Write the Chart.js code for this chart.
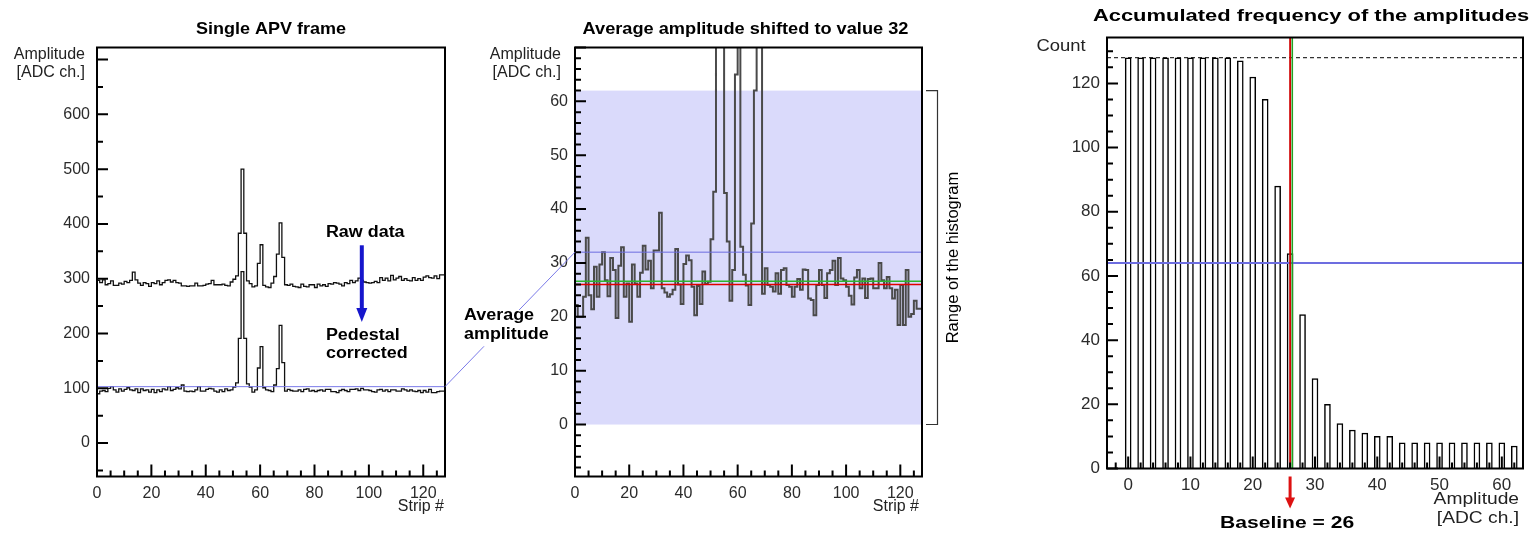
<!DOCTYPE html>
<html>
<head>
<meta charset="utf-8">
<script src="https://cdn.jsdelivr.net/npm/chart.js@4.4.1/dist/chart.umd.min.js"></script>
<style>
  html, body { margin: 0; padding: 0; background: #fff; }
  body { width: 1539px; height: 535px; position: relative; overflow: hidden; }
  canvas { position: absolute; top: 0; }
  #c1 { left: 0; }
  #c2 { left: 440px; }
  #c3 { left: 1000px; }
</style>
</head>
<body>
<canvas id="c1" width="460" height="535"></canvas>
<canvas id="c2" width="560" height="535"></canvas>
<canvas id="c3" width="539" height="535"></canvas>
<script>
const FONT = "'Liberation Sans', Arial, Helvetica, sans-serif";

// --- Data ---
// Panel 1: one APV frame, 128 strips
const rawData = [
    298, 297, 293, 298, 289, 291, 296, 288, 288, 292,
    290, 295, 293, 297, 312, 298, 292, 288, 293, 291,
    286, 293, 291, 296, 289, 293, 297, 298, 294, 297,
    293, 292, 287, 287, 286, 287, 287, 292, 287, 287,
    288, 290, 291, 297, 289, 289, 289, 290, 288, 287,
    294, 299, 305, 383, 500, 383, 296, 291, 285, 287,
    328, 362, 288, 285, 284, 292, 304, 345, 402, 339,
    289, 288, 290, 286, 285, 284, 290, 286, 285, 289,
    289, 284, 290, 287, 289, 286, 291, 290, 293, 292,
    290, 287, 293, 291, 297, 293, 296, 301, 297, 294,
    293, 292, 293, 295, 293, 302, 297, 301, 296, 306,
    298, 301, 304, 297, 300, 297, 296, 302, 297, 300,
    297, 303, 305, 302, 301, 305, 300, 307
];
const pedestalCorrected = [
    97, 90, 95, 96, 94, 100, 103, 97, 93, 99,
    95, 98, 101, 97, 96, 99, 92, 99, 96, 97,
    93, 98, 92, 97, 94, 99, 97, 103, 96, 98,
    101, 99, 106, 95, 94, 95, 94, 97, 103, 95,
    95, 98, 100, 99, 95, 93, 97, 94, 99, 96,
    97, 102, 110, 191, 313, 191, 108, 102, 93, 97,
    137, 176, 101, 97, 96, 94, 106, 136, 215, 147,
    95, 98, 96, 95, 95, 97, 94, 98, 99, 95,
    96, 94, 96, 97, 95, 98, 98, 94, 94, 92,
    96, 98, 96, 94, 98, 98, 99, 96, 100, 97,
    97, 96, 94, 93, 97, 98, 95, 97, 94, 97,
    97, 95, 95, 99, 97, 95, 97, 95, 94, 96,
    92, 96, 93, 98, 92, 92, 94, 95
];
const avgLineP1 = 103;

// Panel 2: same frame, average shifted to 32
const shiftedAmplitude = [
    30, 22.2, 20, 20, 23.7, 34.7, 24, 21.4, 29.3, 23.7,
    29.7, 32, 26.8, 23.8, 30.9, 28.7, 19.8, 29.5, 32.9, 23.7,
    26.2, 19.1, 29.7, 26.2, 23.7, 28.2, 33.2, 28.8, 30.4, 25.3,
    32.3, 32.3, 39.3, 25.3, 24.5, 23.7, 24.2, 25, 32.6, 26,
    22.4, 29.8, 31.4, 30.5, 25.6, 20.3, 25.7, 22.4, 28.4, 26.1,
    26.5, 34.4, 43.2, 120, 242, 120, 43, 34, 23, 28.7,
    65, 105, 33, 27.8, 25.8, 22.2, 37.3, 62, 144, 76,
    24.3, 29, 25.9, 25.6, 24.7, 28.1, 24.3, 28.7, 29, 25.9,
    25.6, 23.7, 25.6, 27, 25, 28.8, 28.7, 23.4, 23.1, 20.3,
    25.9, 28.7, 25.9, 23.5, 28.1, 28.7, 30.4, 25.9, 30.9, 27.1,
    26.8, 25.6, 23.9, 22.3, 27.3, 28.7, 25.3, 27.1, 23.5, 27,
    27.1, 25.3, 25.3, 30, 26.8, 25.3, 27.4, 25.3, 23.4, 25,
    18.5, 25.9, 18.5, 28.7, 20, 20.5, 23, 21.5
];
const shiftTarget = 32;
const histRange = [0, 62];
const meanLine = 26.6;
const baseline = 26;

// Panel 3: accumulated frequency
const ampBins = [0, 2, 4, 6, 8, 10, 12, 14, 16, 18, 20, 22, 24, 26, 28, 30,
                 32, 34, 36, 38, 40, 42, 44, 46, 48, 50, 52, 54, 56, 58, 60, 62];
const accumCounts = [128, 128, 128, 128, 128, 128, 128, 128, 128, 127, 122, 115, 88, 67, 48, 28,
                     20, 14, 12, 11, 10, 10, 8, 8, 8, 8, 8, 8, 8, 8, 8, 7];
const maxCount = 128;
const halfCount = 64;
const baselineFine = 26.35;

// Tick labels
const p1XTicks = [0, 20, 40, 60, 80, 100, 120];
const p1YTicks = [0, 100, 200, 300, 400, 500, 600];
const p2XTicks = [0, 20, 40, 60, 80, 100, 120];
const p2YTicks = [0, 10, 20, 30, 40, 50, 60];
const p3XTicks = [0, 10, 20, 30, 40, 50, 60];
const p3YTicks = [0, 20, 40, 60, 80, 100, 120];

// --- Helpers ---
function stepPoints(vals) {
    const pts = vals.map((v, i) => ({ x: i, y: v }));
    pts.push({ x: vals.length, y: vals[vals.length - 1] });
    return pts;
}

function linAxis(min, max, tickVals, size, fit) {
    return {
        type: 'linear', min, max, offset: false,
        grid: { display: false, drawTicks: false },
        border: { display: false },
        afterBuildTicks: s => { s.ticks = tickVals.map(v => ({ value: v })); },
        afterFit: fit,
        ticks: { font: { family: FONT, size }, color: '#2b2b2b', padding: 7, autoSkip: false, maxRotation: 0, minRotation: 0 }
    };
}

function drawText(ctx, str, x, y, font, align, sx, color) {
    ctx.save();
    ctx.font = font;
    ctx.fillStyle = color || '#000';
    ctx.textAlign = align;
    ctx.textBaseline = 'middle';
    ctx.translate(x, y);
    ctx.scale(sx || 1, 1);
    ctx.fillText(str, 0, 0);
    ctx.restore();
}

function hLine(ctx, x0, x1, y, color, w, dash) {
    ctx.save();
    ctx.strokeStyle = color; ctx.lineWidth = w;
    if (dash) ctx.setLineDash(dash);
    ctx.beginPath(); ctx.moveTo(x0, y); ctx.lineTo(x1, y); ctx.stroke();
    ctx.restore();
}

function vLine(ctx, x, y0, y1, color, w) {
    ctx.save();
    ctx.strokeStyle = color; ctx.lineWidth = w;
    ctx.beginPath(); ctx.moveTo(x, y0); ctx.lineTo(x, y1); ctx.stroke();
    ctx.restore();
}

function arrowDown(ctx, x, y0, y1, shaft, headW, headL, color) {
    ctx.save();
    ctx.fillStyle = color; ctx.strokeStyle = color; ctx.lineWidth = shaft;
    ctx.beginPath(); ctx.moveTo(x, y0); ctx.lineTo(x, y1 - headL + 1); ctx.stroke();
    ctx.beginPath();
    ctx.moveTo(x - headW / 2, y1 - headL); ctx.lineTo(x + headW / 2, y1 - headL); ctx.lineTo(x, y1);
    ctx.closePath(); ctx.fill();
    ctx.restore();
}

// Frame + inward tick marks (ROOT look)
const frameTicks = {
    id: 'frameTicks',
    afterDraw(chart, args, o) {
        const { ctx, chartArea: a, scales: { x, y } } = chart;
        ctx.save();
        ctx.strokeStyle = '#000';
        ctx.lineWidth = 2;
        ctx.beginPath();
        for (let k = Math.ceil(x.min / o.xMinor); k * o.xMinor <= x.max; k++) {
            const v = k * o.xMinor;
            const len = v % o.xMajor === 0 ? 12 : 6;
            const px = x.getPixelForValue(v);
            ctx.moveTo(px, a.bottom); ctx.lineTo(px, a.bottom - len);
        }
        for (let k = Math.ceil(y.min / o.yMinor); k * o.yMinor <= y.max; k++) {
            const v = k * o.yMinor;
            const len = v % o.yMajor === 0 ? 11 : 6;
            const py = y.getPixelForValue(v);
            ctx.moveTo(a.left, py); ctx.lineTo(a.left + len, py);
        }
        ctx.stroke();
        ctx.strokeRect(a.left, a.top, a.right - a.left, a.bottom - a.top);
        ctx.restore();
    }
};

const baseOptions = {
    responsive: false,
    animation: false,
    devicePixelRatio: 1,
    events: []
};

// --- Panel 1 ---
const panel1Decor = {
    id: 'panel1Decor',
    afterDatasetsDraw(chart) {
        const { ctx, chartArea: a, scales: { y } } = chart;
        hLine(ctx, a.left, a.right, y.getPixelForValue(avgLineP1), '#7a7ae8', 1);
    },
    afterDraw(chart) {
        const { ctx, chartArea: a, scales: { x, y } } = chart;
        drawText(ctx, 'Single APV frame', (a.left + a.right) / 2, 29, `bold 17px ${FONT}`, 'center', 1.06);
        drawText(ctx, 'Amplitude', a.left - 12, a.top + 7, `16px ${FONT}`, 'right', 1, '#222');
        drawText(ctx, '[ADC ch.]', a.left - 12, a.top + 25, `16px ${FONT}`, 'right', 1, '#222');
        drawText(ctx, 'Strip #', a.right - 1, a.bottom + 30.5, `16px ${FONT}`, 'right', 1, '#222');
        drawText(ctx, 'Raw data', x.getPixelForValue(84.2), y.getPixelForValue(385), `bold 16px ${FONT}`, 'left', 1.12);
        arrowDown(ctx, x.getPixelForValue(97.4), y.getPixelForValue(361), y.getPixelForValue(221), 4, 11, 14, '#1616cc');
        drawText(ctx, 'Pedestal', x.getPixelForValue(84.2), y.getPixelForValue(197), `bold 16px ${FONT}`, 'left', 1.12);
        drawText(ctx, 'corrected', x.getPixelForValue(84.2), y.getPixelForValue(162.5), `bold 16px ${FONT}`, 'left', 1.12);
    }
};

window.chart1 = new Chart(document.getElementById('c1'), {
    type: 'line',
    data: {
        datasets: [
            { data: stepPoints(rawData), stepped: 'after', borderColor: '#111', borderWidth: 1.3, pointRadius: 0, fill: false },
            { data: stepPoints(pedestalCorrected), stepped: 'after', borderColor: '#111', borderWidth: 1.3, pointRadius: 0, fill: false }
        ]
    },
    options: {
        ...baseOptions,
        layout: { padding: { left: 0, right: 15, top: 47.5, bottom: 0 } },
        plugins: {
            legend: { display: false }, tooltip: { enabled: false }, title: { display: false },
            frameTicks: { xMinor: 5, xMajor: 20, yMinor: 50, yMajor: 100 }
        },
        scales: {
            x: linAxis(0, 128, p1XTicks, 16, s => { s.height = 58.5; }),
            y: linAxis(-61, 722, p1YTicks, 16, s => { s.width = 97; })
        }
    },
    plugins: [frameTicks, panel1Decor]
});

// --- Panel 2 ---
const panel2Decor = {
    id: 'panel2Decor',
    beforeDatasetsDraw(chart) {
        const { ctx, chartArea: a, scales: { y } } = chart;
        const top = y.getPixelForValue(histRange[1]);
        const bot = y.getPixelForValue(histRange[0]);
        ctx.save();
        ctx.fillStyle = '#dadafb';
        ctx.fillRect(a.left, top, a.right - a.left, bot - top);
        ctx.restore();
    },
    afterDatasetsDraw(chart) {
        const { ctx, chartArea: a, scales: { y } } = chart;
        hLine(ctx, a.left, a.right, y.getPixelForValue(shiftTarget), '#6c6ce0', 1);
        hLine(ctx, a.left, a.right, y.getPixelForValue(meanLine), '#2db52d', 1.5);
        hLine(ctx, a.left, a.right, y.getPixelForValue(baseline), '#e00000', 1.5);
    },
    afterDraw(chart) {
        const { ctx, chartArea: a, scales: { x, y } } = chart;
        drawText(ctx, 'Average amplitude shifted to value 32', (a.left + a.right) / 2 - 3, 29, `bold 17px ${FONT}`, 'center', 1.07);
        drawText(ctx, 'Amplitude', a.left - 14, a.top + 7, `16px ${FONT}`, 'right', 1, '#222');
        drawText(ctx, '[ADC ch.]', a.left - 14, a.top + 25, `16px ${FONT}`, 'right', 1, '#222');
        drawText(ctx, 'Strip #', a.right - 3, a.bottom + 30.5, `16px ${FONT}`, 'right', 1, '#222');

        // bracket marking the histogram range
        const yTop = y.getPixelForValue(histRange[1]);
        const yBot = y.getPixelForValue(histRange[0]);
        ctx.save();
        ctx.strokeStyle = '#333'; ctx.lineWidth = 1.2;
        ctx.beginPath();
        ctx.moveTo(a.right + 4, yTop); ctx.lineTo(a.right + 15.5, yTop);
        ctx.lineTo(a.right + 15.5, yBot); ctx.lineTo(a.right + 4, yBot);
        ctx.stroke();
        ctx.translate(a.right + 31, (yTop + yBot) / 2);
        ctx.rotate(-Math.PI / 2);
        ctx.font = `16.5px ${FONT}`;
        ctx.fillStyle = '#000';
        ctx.textAlign = 'center'; ctx.textBaseline = 'middle';
        ctx.fillText('Range of the histogram', 0, 0);
        ctx.restore();

        // "Average amplitude" callout linking both panels
        drawText(ctx, 'Average', a.left - 111, 316, `bold 16px ${FONT}`, 'left', 1.12);
        drawText(ctx, 'amplitude', a.left - 111, 335, `bold 16px ${FONT}`, 'left', 1.12);
        const c1 = window.chart1;
        if (c1) {
            const off = chart.canvas.offsetLeft - c1.canvas.offsetLeft;
            const p1 = { x: c1.scales.x.getPixelForValue(128) - off, y: c1.scales.y.getPixelForValue(avgLineP1) };
            const p2 = { x: x.getPixelForValue(0), y: y.getPixelForValue(shiftTarget) };
            const at = t => [p1.x + (p2.x - p1.x) * t, p1.y + (p2.y - p1.y) * t];
            ctx.save();
            ctx.strokeStyle = '#7a7ae8'; ctx.lineWidth = 1;
            ctx.beginPath();
            ctx.moveTo(...at(0)); ctx.lineTo(...at(0.3));
            ctx.moveTo(...at(0.57)); ctx.lineTo(...at(1));
            ctx.stroke();
            ctx.restore();
        }
    }
};

window.chart2 = new Chart(document.getElementById('c2'), {
    type: 'line',
    data: {
        datasets: [
            { data: stepPoints(shiftedAmplitude), stepped: 'after', borderColor: '#4a4a4a', borderWidth: 2, pointRadius: 0, fill: false }
        ]
    },
    options: {
        ...baseOptions,
        layout: { padding: { left: 0, right: 78, top: 47.5, bottom: 0 } },
        plugins: {
            legend: { display: false }, tooltip: { enabled: false }, title: { display: false },
            frameTicks: { xMinor: 5, xMajor: 20, yMinor: 2, yMajor: 10 }
        },
        scales: {
            x: linAxis(0, 128, p2XTicks, 16, s => { s.height = 58.5; }),
            y: linAxis(-9.65, 70, p2YTicks, 16, s => { s.width = 135; })
        }
    },
    plugins: [frameTicks, panel2Decor]
});

// --- Panel 3 ---
const panel3Decor = {
    id: 'panel3Decor',
    afterDatasetsDraw(chart) {
        const { ctx, chartArea: a, scales: { x, y } } = chart;
        hLine(ctx, a.left, a.right, y.getPixelForValue(maxCount), '#000', 1, [4, 3]);
        hLine(ctx, a.left, a.right, y.getPixelForValue(halfCount), '#6d6de0', 2);
        vLine(ctx, x.getPixelForValue(baseline), a.top, a.bottom, '#d00000', 1.8);
        vLine(ctx, x.getPixelForValue(baselineFine), a.top, a.bottom, '#22a022', 1.6);
    },
    afterDraw(chart) {
        const { ctx, chartArea: a, scales: { x } } = chart;
        drawText(ctx, 'Accumulated frequency of the amplitudes', (a.left + a.right) / 2 - 4, 16.5, `bold 17px ${FONT}`, 'center', 1.29);
        drawText(ctx, 'Count', a.left - 46, a.top + 9, `16px ${FONT}`, 'center', 1.15, '#222');
        const bx = x.getPixelForValue(baseline);
        arrowDown(ctx, bx, a.bottom + 8, a.bottom + 40, 3, 10, 11, '#dd1111');
        drawText(ctx, 'Baseline = 26', bx - 3, a.bottom + 55, `bold 17px ${FONT}`, 'center', 1.24);
        drawText(ctx, 'Amplitude', a.right - 4, a.bottom + 31.5, `16px ${FONT}`, 'right', 1.2, '#222');
        drawText(ctx, '[ADC ch.]', a.right - 4, a.bottom + 50, `16px ${FONT}`, 'right', 1.2, '#222');
    }
};

window.chart3 = new Chart(document.getElementById('c3'), {
    type: 'bar',
    data: {
        datasets: [{
            data: ampBins.map((b, i) => ({ x: b, y: accumCounts[i] })),
            backgroundColor: '#fff',
            borderColor: '#000',
            borderWidth: 1.5,
            barThickness: 6
        }]
    },
    options: {
        ...baseOptions,
        layout: { padding: { left: 0, right: 16, top: 37.5, bottom: 0 } },
        plugins: {
            legend: { display: false }, tooltip: { enabled: false }, title: { display: false },
            frameTicks: { xMinor: 2, xMajor: 10, yMinor: 5, yMajor: 20 }
        },
        scales: {
            x: linAxis(-3.4, 63.4, p3XTicks, 17, s => { s.height = 66.5; }),
            y: linAxis(0, 134.3, p3YTicks, 17, s => { s.width = 107; })
        }
    },
    plugins: [frameTicks, panel3Decor]
});
</script>
</body>
</html>
